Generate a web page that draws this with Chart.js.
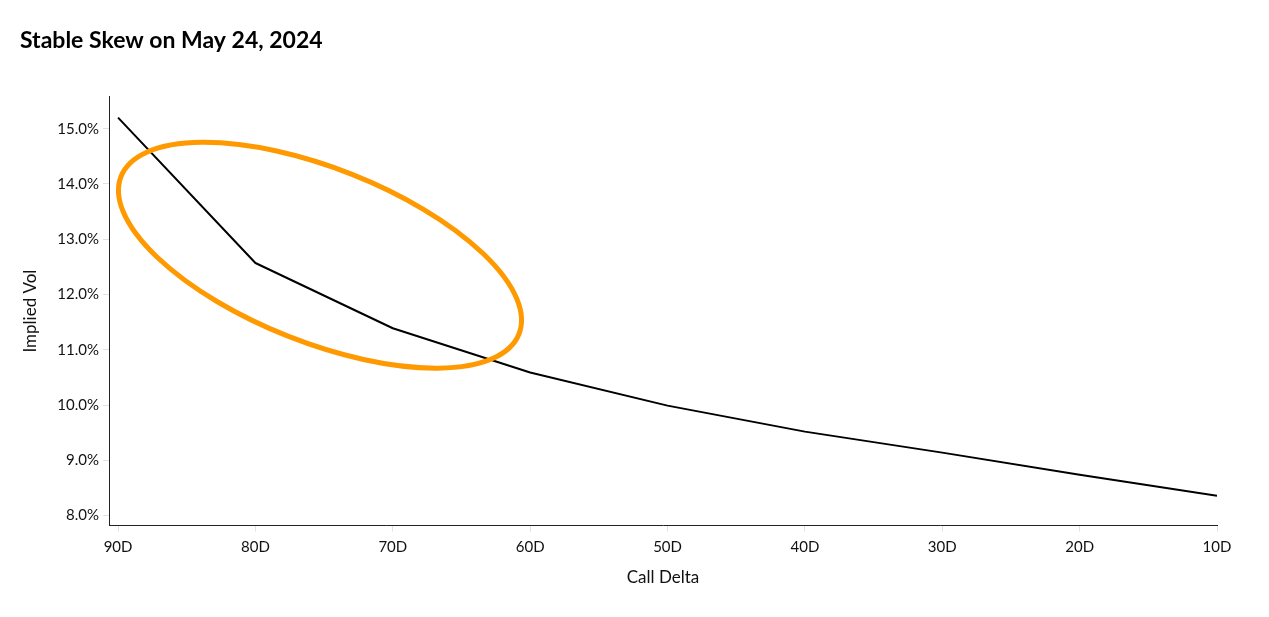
<!DOCTYPE html>
<html>
<head>
<meta charset="utf-8">
<script src="https://cdn.jsdelivr.net/npm/chart.js@4"></script>
<style>
  html, body { margin: 0; padding: 0; background: #fff; }
  #wrap { width: 1269px; height: 617px; }
</style>
</head>
<body>
<div id="wrap"><canvas id="chart"></canvas></div>
<script>
// call deltas and implied vols
const deltas = [90, 80, 70, 60, 50, 40, 30, 20, 10];
const vols = [15.2, 12.57, 11.39, 10.59, 9.99, 9.52, 9.14, 8.74, 8.36];
const yTicks = [8, 9, 10, 11, 12, 13, 14, 15];

// orange ring, centre in data units, size in px
const ringCenter = { x: 75.3, y: 12.71 };

const ringPlugin = {
  id: 'ring',
  afterDatasetsDraw(chart) {
    const { ctx, scales } = chart;
    const cx = scales.x.getPixelForValue(ringCenter.x);
    const cy = scales.y.getPixelForValue(ringCenter.y);
    ctx.save();
    ctx.strokeStyle = '#ff9900';
    ctx.lineWidth = 5;
    ctx.beginPath();
    ctx.ellipse(cx, cy, 214, 87, 21.6 * Math.PI / 180, 0, Math.PI * 2);
    ctx.stroke();
    ctx.restore();
  }
};

const skew_data = {
  datasets: [{
    label: 'Implied Vol',
    data: deltas.map((d, i) => ({ x: d, y: vols[i] })),
    borderColor: '#000',
    borderWidth: 2,
    pointRadius: 0,
    tension: 0,
    borderJoinStyle: 'round'
  }]
};

const tickFont = { family: 'Lato', size: 15 };

const skew_config = {
  type: 'line',
  data: skew_data,
  options: {
    responsive: true,
    maintainAspectRatio: false,
    animation: false,
    layout: { padding: { left: 20, right: 52, top: 0, bottom: 25 } },
    plugins: {
      legend: { display: false },
      tooltip: { enabled: false },
      title: {
        display: true,
        text: 'Stable Skew on May 24, 2024',
        align: 'start',
        color: '#000',
        font: { family: 'Lato', size: 23, weight: 'bold' },
        padding: { top: 27, bottom: 42 }
      }
    },
    scales: {
      x: {
        type: 'linear',
        reverse: true,
        min: 10,
        max: 90.66,
        afterBuildTicks: s => { s.ticks = deltas.map(v => ({ value: v })); },
        ticks: { color: '#111', font: tickFont, callback: v => v + 'D', padding: 7 },
        grid: { drawOnChartArea: false, color: '#dde3ea', tickLength: 6 },
        border: { color: '#222', width: 1 },
        title: { display: true, text: 'Call Delta', color: '#111', font: { family: 'Lato', size: 17 }, padding: { top: 4 } }
      },
      y: {
        min: 7.82,
        max: 15.58,
        afterBuildTicks: s => { s.ticks = yTicks.map(v => ({ value: v })); },
        afterFit: s => { s.width = 89; },
        ticks: { color: '#111', font: tickFont, callback: v => v.toFixed(1) + '%', padding: 4 },
        grid: { drawOnChartArea: false, color: '#dde3ea', tickLength: 6 },
        border: { color: '#222', width: 1 },
        title: { display: true, text: 'Implied Vol', color: '#111', font: { family: 'Lato', size: 17 }, padding: { top: 0, bottom: 6 } }
      }
    }
  },
  plugins: [ringPlugin]
};

const skew_chart = new Chart(
  document.getElementById('chart'),
  skew_config
);
</script>
</body>
</html>
